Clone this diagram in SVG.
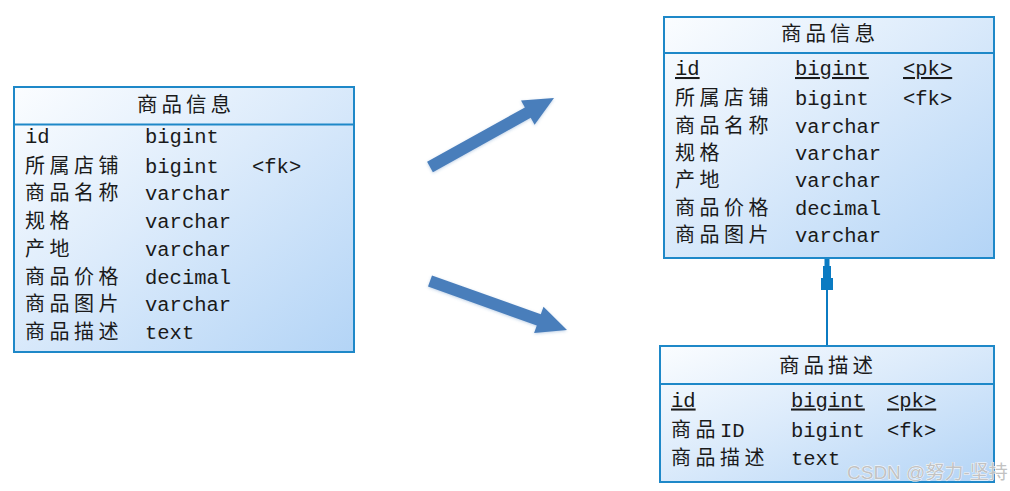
<svg xmlns="http://www.w3.org/2000/svg" width="1010" height="491" viewBox="0 0 1010 491">
<defs>
<linearGradient id="tbl" x1="0" y1="0" x2="1" y2="1">
<stop offset="0" stop-color="#fbfdff"/>
<stop offset="0.45" stop-color="#dcebfb"/>
<stop offset="1" stop-color="#b3d4f6"/>
</linearGradient>
<filter id="sh" x="-20%" y="-20%" width="140%" height="140%">
<feGaussianBlur in="SourceAlpha" stdDeviation="1.5"/>
<feOffset dx="0" dy="1" result="b"/>
<feFlood flood-color="#4a7ebb" flood-opacity="0.35"/>
<feComposite in2="b" operator="in"/>
<feMerge><feMergeNode/><feMergeNode in="SourceGraphic"/></feMerge>
</filter>
</defs>
<style>
.box{fill:url(#tbl);stroke:#1e88c8;stroke-width:2}
.div{stroke:#1e88c8;stroke-width:2}
.cn{font-family:"Noto Sans CJK SC","Noto Sans",sans-serif;font-size:20px;letter-spacing:4.5px;fill:#1a1a1a}
.ttl{font-family:"Noto Sans CJK SC","Noto Sans",sans-serif;font-size:20.5px;letter-spacing:4px;fill:#1a1a1a;text-anchor:middle}
.mono{font-family:"Liberation Mono","DejaVu Sans Mono",monospace;font-size:20.5px;fill:#1a1a1a;letter-spacing:0}
.u{text-decoration:underline}
.arrow{fill:#4a7ebb;filter:url(#sh)}
.conn{stroke:#0b7bc2;stroke-width:2;fill:none}
.wm{font-family:"Liberation Sans","Noto Sans CJK SC",sans-serif;font-size:19px;fill:#c2c2c2;stroke:#ffffff;stroke-width:0.8;paint-order:stroke}
</style>

<g id="connectors">
<polygon class="arrow" points="432.9,172.2 427.1,161.8 524.9,107.4 521,100.4 554,98 534.6,124.8 530.7,117.8"/>
<polygon class="arrow" points="432,275.4 428,286.6 536.8,325.5 534.1,333.1 567,330 543.5,306.7 540.8,314.2"/>
<line class="conn" x1="827" y1="346" x2="827" y2="259"/>
<polygon fill="#0b7bc2" points="824.5,259 829.5,259 829.5,266 831,266 831,278 833,278 833,290 821,290 821,278 823,278 823,266 824.5,266"/>
</g>

<g id="node-left">
<rect class="box" x="14" y="87" width="340" height="265"/>
<line class="div" x1="14" y1="124.5" x2="354" y2="124.5"/>
<text class="ttl" x="186" y="112">商品信息</text>
<text class="mono" x="25" y="143">id</text>
<text class="mono" x="145" y="143">bigint</text>
<text class="cn" x="25" y="172.7">所属店铺</text>
<text class="mono" x="145" y="172.7">bigint</text>
<text class="mono" x="252" y="172.7">&lt;fk&gt;</text>
<text class="cn" x="25" y="200.4">商品名称</text>
<text class="mono" x="145" y="200.4">varchar</text>
<text class="cn" x="25" y="228.1">规格</text>
<text class="mono" x="145" y="228.1">varchar</text>
<text class="cn" x="25" y="255.8">产地</text>
<text class="mono" x="145" y="255.8">varchar</text>
<text class="cn" x="25" y="283.5">商品价格</text>
<text class="mono" x="145" y="283.5">decimal</text>
<text class="cn" x="25" y="311.2">商品图片</text>
<text class="mono" x="145" y="311.2">varchar</text>
<text class="cn" x="25" y="338.9">商品描述</text>
<text class="mono" x="145" y="338.9">text</text>
</g>

<g id="node-goods">
<rect class="box" x="664" y="17" width="330" height="241"/>
<line class="div" x1="664" y1="53" x2="994" y2="53"/>
<text class="ttl" x="830" y="41">商品信息</text>
<text class="mono u" x="675" y="75">id</text>
<text class="mono u" x="795" y="75">bigint</text>
<text class="mono u" x="903" y="75">&lt;pk&gt;</text>
<text class="cn" x="675" y="105">所属店铺</text>
<text class="mono" x="795" y="105">bigint</text>
<text class="mono" x="903" y="105">&lt;fk&gt;</text>
<text class="cn" x="675" y="132.5">商品名称</text>
<text class="mono" x="795" y="132.5">varchar</text>
<text class="cn" x="675" y="160">规格</text>
<text class="mono" x="795" y="160">varchar</text>
<text class="cn" x="675" y="187">产地</text>
<text class="mono" x="795" y="187">varchar</text>
<text class="cn" x="675" y="214.5">商品价格</text>
<text class="mono" x="795" y="214.5">decimal</text>
<text class="cn" x="675" y="242">商品图片</text>
<text class="mono" x="795" y="242">varchar</text>
</g>

<g id="node-desc">
<rect class="box" x="660" y="346" width="334" height="136"/>
<line class="div" x1="660" y1="384" x2="994" y2="384"/>
<text class="ttl" x="828" y="373">商品描述</text>
<text class="mono u" x="671" y="406.5">id</text>
<text class="mono u" x="791" y="406.5">bigint</text>
<text class="mono u" x="887" y="406.5">&lt;pk&gt;</text>
<text class="cn" x="671" y="437">商品<tspan class="mono" x="720">ID</tspan></text>
<text class="mono" x="791" y="437">bigint</text>
<text class="mono" x="887" y="437">&lt;fk&gt;</text>
<text class="cn" x="671" y="464.5">商品描述</text>
<text class="mono" x="791" y="464.5">text</text>
</g>

<text class="wm" x="847" y="479">CSDN @努力-坚持</text>
</svg>
